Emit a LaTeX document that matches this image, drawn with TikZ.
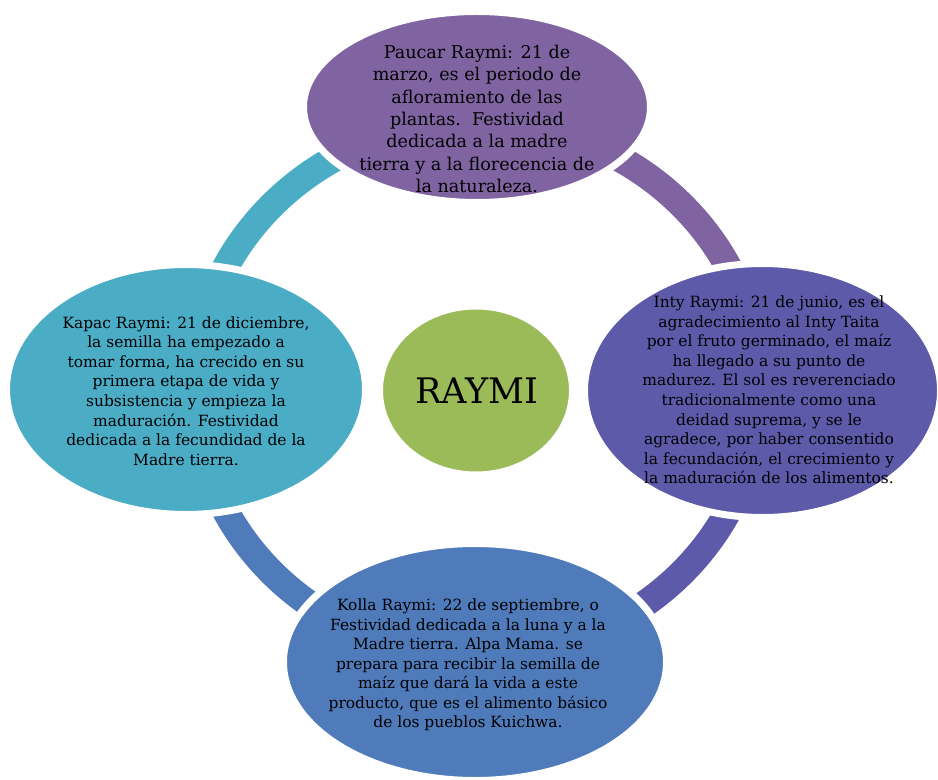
\documentclass[tikz,border=0pt]{standalone}
\usepackage{fontspec}
\setmainfont{DejaVu Serif}
\usetikzlibrary{shapes.geometric}

\definecolor{paucarcol}{HTML}{8064A2}
\definecolor{intycol}{HTML}{5D5AAA}
\definecolor{kollacol}{HTML}{507BBB}
\definecolor{kapaccol}{HTML}{4BACC6}
\definecolor{raymicol}{HTML}{9BBB59}

\begin{document}
\begin{tikzpicture}[
    x=0.25mm,
    y=-0.25mm,
    bubble/.style={
        ellipse,
        draw=white,
        line width=1.75mm,
        inner sep=0pt
    },
    ringarc/.style={
        line width=6.75mm
    },
    txt/.style={
        align=center,
        inner sep=0pt,
        font=\fontsize{11}{13.9}\selectfont
    },
    bigtxt/.style={
        txt,
        font=\fontsize{12.5}{15.9}\selectfont
    }
]
    \useasboundingbox (0,0) rectangle (938,780);

    % --- Ring ---
    \coordinate (hub) at (477,389);
    \draw[ringarc, kapaccol] (hub) ++(180:282.5 and 267)
        arc[start angle=180, end angle=270, x radius=282.5, y radius=267];
    \draw[ringarc, paucarcol] (hub) ++(270:282.5 and 267)
        arc[start angle=270, end angle=360, x radius=282.5, y radius=267];
    \draw[ringarc, intycol] (hub) ++(0:282.5 and 267)
        arc[start angle=0, end angle=90, x radius=282.5, y radius=267];
    \draw[ringarc, kollacol] (hub) ++(90:282.5 and 267)
        arc[start angle=90, end angle=180, x radius=282.5, y radius=267];

    % --- Bubbles ---
    \node[bubble, fill=paucarcol, minimum width=86.75mm, minimum height=47.75mm] (paucar) at (477,107) {};
    \node[bubble, fill=intycol, minimum width=89mm, minimum height=63.5mm] (inty) at (762.5,390.5) {};
    \node[bubble, fill=kollacol, minimum width=95.75mm, minimum height=59.25mm] (kolla) at (475,662) {};
    \node[bubble, fill=kapaccol, minimum width=89.75mm, minimum height=62.5mm] (kapac) at (186,389.5) {};
    \node[bubble, fill=raymicol, minimum width=48.25mm, minimum height=42.25mm] (raymi) at (476,390.5) {};

    % --- Texts ---
    \node[bigtxt] (paucartxt) at (477,119) {Paucar Raymi: 21 de\\
        marzo, es el periodo de\\
        afloramiento de las\\
        plantas.\ \ Festividad\\
        dedicada a la madre\\
        tierra y a la florecencia de\\
        la naturaleza.};
    \node[txt] (intytxt) at (769,390) {Inty Raymi: 21 de junio, es el\\
        agradecimiento al Inty Taita\\
        por el fruto germinado, el maíz\\
        ha llegado a su punto de\\
        madurez. El sol es reverenciado\\
        tradicionalmente como una\\
        deidad suprema, y se le\\
        agradece, por haber consentido\\
        la fecundación, el crecimiento y\\
        la maduración de los alimentos.};
    \node[txt] (kollatxt) at (468,665) {Kolla Raymi: 22 de septiembre, o\\
        Festividad dedicada a la luna y a la\\
        Madre tierra. Alpa Mama. se\\
        prepara para recibir la semilla de\\
        maíz que dará la vida a este\\
        producto, que es el alimento básico\\
        de los pueblos Kuichwa.};
    \node[txt] (kapactxt) at (186,391) {Kapac Raymi: 21 de diciembre,\\
        la semilla ha empezado a\\
        tomar forma, ha crecido en su\\
        primera etapa de vida y\\
        subsistencia y empieza la\\
        maduración. Festividad\\
        dedicada a la fecundidad de la\\
        Madre tierra.};
    \node[txt, font=\fontsize{25}{29}\selectfont] (raymitxt) at (477,391) {RAYMI};
\end{tikzpicture}
\end{document}
